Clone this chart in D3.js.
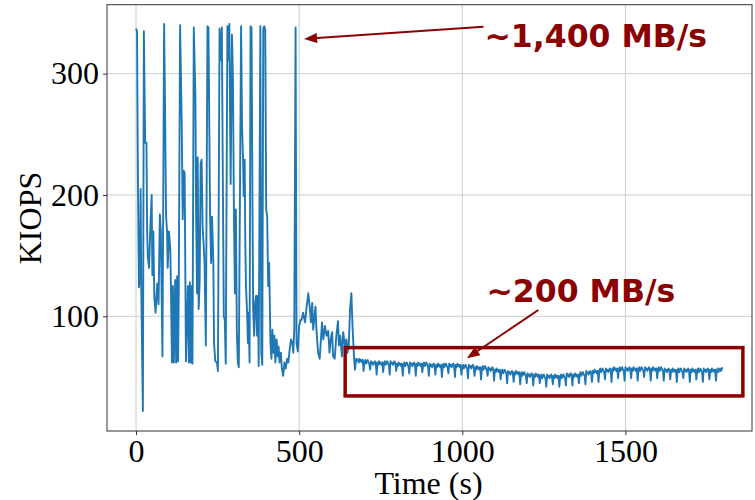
<!DOCTYPE html>
<html>
<head>
<meta charset="utf-8">
<script src="https://cdn.jsdelivr.net/npm/d3@7/dist/d3.min.js"></script>
<style>
  html, body { margin: 0; padding: 0; background: #fff; }
  svg { display: block; }
</style>
</head>
<body>
<svg id="chart" width="755" height="500"></svg>
<script>
// ---- data ----
const burstTime = [0,3,6,9,12,14,16,21,24,28,32,34,36,40,44,48,50,53,56,60,65,69,73,76,81,86,89,92,95,97,101,105,107,110,113,116,120,123,126,129,131,135,140,143,146,149,153,159,162,165,168,171,173,177,182,184,187,189,192,195,198,201,204,207,210,214,219,222,224,227,230,233,237,239,243,248,251,256,260,263,266,269,272,275,280,283,286,288,290,294,297,300,303,306,309,312,315,322,325,328,330,333,335,337,340,343,345,348,351,354,357,359,362,365,368,371,374,376,381,384,387,390,393,396,399,402,405,408,412,415,418,421,424,427,431,434,437,440,444,447,451,455,459,463,467,471,475,479,482,485,489,492,496,500,504,507,512,518,523,528,533,536,540,543,546,550,553,558,563,566,570,574,579,584,589,593,597,601,604,609,614,619,622,626,631,635,640,645,648,652,656,660,664,668,671,675];
const burstKiops = [337,335,204,124,135,205,125,22,335,243,243,171,149,140,175,200,134,170,116,103,127,110,184,170,67,341,270,183,170,140,170,155,124,62,125,62,130,62,133,63,125,340,260,180,220,218,63,125,62,128,62,125,61,338,280,188,119,231,106,128,226,229,174,160,144,76,339,338,275,182,144,182,144,78,63,62,55,337,311,338,215,100,97,61,339,311,341,270,209,332,297,188,119,188,87,62,58,339,256,229,199,229,160,125,106,78,103,62,339,338,188,106,84,111,117,84,117,59,339,70,60,337,339,336,188,182,125,144,78,65,89,70,84,62,81,67,75,62,70,57,51,62,57,65,62,73,81,78,70,89,338,78,71,92,97,97,103,95,108,119,106,95,111,89,97,108,89,70,65,78,95,81,92,84,88,70,81,87,67,65,84,96,76,84,67,87,76,81,70,76,106,119,89,67,56,65];
// steady phase: one sample every 2.5 s starting at 680 s
const steadyStart = 680;
const steadyStep = 2.5;
const steadyKiops = [
  64,62,65,63,64,62,64,55, 62,64,61,63,64,62,61,56, 63,61,62,60,62,63,61,52, 62,60,63,61,62,60,62,54,
  61,63,60,62,63,61,60,52, 63,61,62,60,62,63,61,55, 61,59,62,60,61,59,61,51, 60,62,59,61,62,60,59,53,
  62,60,61,59,61,62,60,51, 61,59,62,60,61,59,61,54, 60,62,59,61,62,60,59,51, 61,59,60,58,60,61,59,52,
  60,58,61,59,60,58,60,50, 59,61,58,60,61,59,58,53, 61,59,60,58,60,61,59,50, 60,58,61,59,60,58,60,52,
  58,60,57,59,60,58,57,49, 60,58,59,57,59,60,58,51, 58,56,59,57,58,56,58,48, 57,59,56,58,59,57,56,51,
  58,56,57,55,57,58,56,47, 56,54,57,55,56,54,56,48, 54,56,53,55,56,54,53,45, 55,53,54,52,54,55,53,46,
  54,52,55,53,54,52,54,44, 52,54,51,53,54,52,51,45, 53,51,52,50,52,53,51,43, 52,50,53,51,52,50,52,45,
  50,52,49,51,52,50,49,42, 52,50,51,49,51,52,50,44, 51,49,52,50,51,49,51,42, 50,52,49,51,52,50,49,43,
  53,51,52,50,52,53,51,43, 52,50,53,51,52,50,52,45, 52,54,51,53,54,52,51,44, 55,53,54,52,54,55,53,46,
  55,53,56,54,55,53,55,46, 55,57,54,56,57,55,54,48, 57,55,56,54,56,57,55,46, 57,55,58,56,57,55,57,49,
  56,58,55,57,58,56,55,47, 58,56,57,55,57,58,56,49, 57,55,58,56,57,55,57,47, 56,58,55,57,58,56,55,50,
  58,56,57,55,57,58,56,47, 57,55,58,56,57,55,57,49, 56,58,55,57,58,56,55,47, 57,55,56,54,56,57,55,48,
  56,54,57,55,56,54,56,46, 55,57,54,56,57,55,54,49, 57,55,56,54,56,57,55,46, 56,54,57,55,56,54,56,48,
  55,57,54,56,57,55,54,46, 57,55,56,54,56,57,55,48, 56,54,57,55,56,54,56,47, 55,57,54,56,57,55,56,58
];
const xTicks = [0, 500, 1000, 1500];
const yTicks = [100, 200, 300];
const xLabel = "Time (s)";
const yLabel = "KIOPS";
const note1 = "~1,400 MB/s";
const note2 = "~200 MB/s";

// ---- build series ----
const series = burstTime.map((t, i) => ({t, v: burstKiops[i]}))
  .concat(steadyKiops.map((v, i) => ({t: steadyStart + i * steadyStep, v})));

// ---- layout ----
const L = 107, R = 752, T = 4.7, B = 431;
const svg = d3.select("#chart");
const x = d3.scaleLinear().domain([-89, 1888]).range([L, R]);
const y = d3.scaleLinear().domain([5.5, 356.8]).range([B, T]);
const red = "#8b0000";
const serif = "'Liberation Serif', 'Times New Roman', serif";

// grid
svg.append("g").selectAll("line").data(xTicks).join("line")
  .attr("x1", d => x(d)).attr("x2", d => x(d)).attr("y1", T).attr("y2", B)
  .attr("stroke", "#cdcdcd").attr("stroke-width", 1);
svg.append("g").selectAll("line").data(yTicks).join("line")
  .attr("x1", L).attr("x2", R).attr("y1", d => y(d)).attr("y2", d => y(d))
  .attr("stroke", "#cdcdcd").attr("stroke-width", 1);

// axes
const xAxis = d3.axisBottom(x).tickValues(xTicks).tickSize(4).tickPadding(4).tickFormat(d3.format("d"));
const yAxis = d3.axisLeft(y).tickValues(yTicks).tickSize(4).tickPadding(4).tickFormat(d3.format("d"));
const gx = svg.append("g").attr("transform", `translate(0,${B})`).call(xAxis);
const gy = svg.append("g").attr("transform", `translate(${L},0)`).call(yAxis);
[gx, gy].forEach(g => {
  g.select(".domain").remove();
  g.selectAll(".tick line").attr("stroke", "#333").attr("stroke-width", 1);
  g.selectAll(".tick text").attr("font-family", serif).attr("font-size", 32).attr("fill", "#000");
});

// line
const line = d3.line().x(d => x(d.t)).y(d => y(d.v));
svg.append("path").datum(series).attr("d", line)
  .attr("fill", "none").attr("stroke", "#1f77b4").attr("stroke-width", 1.9)
  .attr("stroke-linejoin", "round");

// frame
svg.append("rect").attr("x", L).attr("y", T).attr("width", R - L).attr("height", B - T)
  .attr("fill", "none").attr("stroke", "#333").attr("stroke-width", 1);

// axis labels
svg.append("text").attr("x", (L + R) / 2 - 1).attr("y", 494).attr("text-anchor", "middle")
  .attr("font-family", serif).attr("font-size", 32).text(xLabel);
svg.append("text").attr("transform", "translate(41,218) rotate(-90)").attr("text-anchor", "middle")
  .attr("font-family", serif).attr("font-size", 32).text(yLabel);

// annotations
function arrow(x1, y1, x2, y2) {
  const ang = Math.atan2(y2 - y1, x2 - x1);
  const hl = 13, hw = 5;
  const bx = x2 - hl * Math.cos(ang), by = y2 - hl * Math.sin(ang);
  svg.append("line").attr("x1", x1).attr("y1", y1).attr("x2", bx).attr("y2", by)
    .attr("stroke", red).attr("stroke-width", 2);
  const px = -Math.sin(ang) * hw, py = Math.cos(ang) * hw;
  svg.append("path").attr("d", `M${x2},${y2}L${bx + px},${by + py}L${bx - px},${by - py}Z`).attr("fill", red);
}
svg.append("rect").attr("x", x(641)).attr("y", y(74.2))
  .attr("width", x(1860) - x(641)).attr("height", y(34.4) - y(74.2))
  .attr("fill", "none").attr("stroke", red).attr("stroke-width", 3.5);
arrow(x(1065), y(338.7), x(515), y(328.6));
arrow(x(1233), y(105.2), x(1014), y(65.4));
svg.append("text").attr("x", x(1068)).attr("y", y(322.2))
  .attr("font-family", "'DejaVu Sans', sans-serif").attr("font-weight", "bold").attr("font-size", 31.5)
  .attr("fill", red).text(note1);
svg.append("text").attr("x", x(1074)).attr("y", y(111.8))
  .attr("font-family", "'DejaVu Sans', sans-serif").attr("font-weight", "bold").attr("font-size", 31.5)
  .attr("fill", red).text(note2);
</script>
</body>
</html>
